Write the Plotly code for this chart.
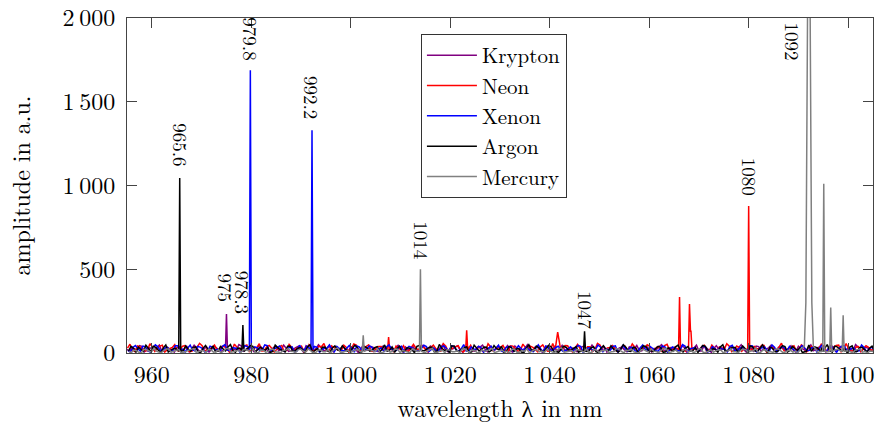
import numpy as np
import plotly.graph_objects as go

# ---------------- data ----------------
series_names = ["Krypton", "Neon", "Xenon", "Argon", "Mercury"]
series_colors = ["#800080", "#ff0000", "#0000ff", "#000000", "#808080"]
grid_start = 955.0
grid_step = 0.5
grid_offset = {"Krypton": 0.0, "Neon": 0.1, "Xenon": 0.2, "Argon": 0.3, "Mercury": 0.4}

# baseline noise read at whole-nm positions
krypton_base = [22, 35, 14, 40, 18, 27, 33, 12, 38, 20, 29, 16, 42, 24, 31,
                15, 37, 21, 28, 11, 34, 26, 19, 41, 23, 30, 13, 36, 25, 17,
                39, 22, 28, 14, 33, 20, 43, 18, 26, 32, 12, 35, 24, 29, 16,
                38, 21, 27, 15, 40, 23, 31, 19, 34, 13, 28, 36, 22, 17, 30,
                25, 41, 14, 33, 20, 27, 37, 16, 29, 24, 11, 35, 22, 39, 18,
                31, 26, 14, 42, 21, 28, 17, 34, 23, 30, 12, 38, 25, 19, 33,
                27, 15, 40, 22, 29, 18, 36, 24, 13, 31, 20, 37, 26, 16, 34,
                21, 28, 39, 14, 32, 23, 17, 35, 25, 30, 12, 41, 19, 27, 22,
                36, 15, 29, 33, 20, 26, 11, 38, 24, 31, 18, 35, 22, 28, 16,
                40, 23, 30, 14, 34, 21, 27, 37, 19, 25, 32, 13, 36, 24, 29,
                20]
# baseline noise read at half-nm positions
krypton_half = [9, 27, 44, 7, 31, 15, 48, 10, 25, 5, 39, 21, 8, 46, 12,
                29, 6, 43, 17, 35, 4, 24, 50, 11, 37, 8, 45, 19, 6, 33,
                14, 47, 9, 26, 41, 5, 30, 12, 49, 16, 38, 7, 22, 44, 10,
                28, 3, 46, 18, 34, 8, 42, 13, 27, 48, 6, 19, 39, 11, 45,
                7, 32, 15, 50, 9, 24, 43, 5, 36, 13, 29, 47, 8, 21, 40,
                10, 44, 6, 27, 17, 49, 12, 34, 4, 41, 20, 9, 46, 14, 30,
                7, 38, 16, 48, 11, 25, 5, 43, 19, 35, 8, 28, 45, 13, 39,
                6, 22, 50, 10, 33, 15, 42, 7, 26, 47, 12, 31, 4, 44, 18,
                9, 37, 14, 49, 6, 29, 41, 11, 23, 46, 8, 36, 16, 43, 5,
                27, 12, 48, 20, 32, 7, 45, 10, 38, 15, 24, 50, 9, 34, 13]
neon_base = [30, 18, 42, 25, 13, 37, 28, 46, 20, 33, 15, 39, 26, 11, 35,
             44, 22, 31, 17, 40, 27, 14, 36, 24, 48, 19, 32, 12, 38, 29,
             21, 45, 16, 34, 26, 41, 13, 30, 23, 37, 18, 43, 28, 15, 33,
             25, 47, 20, 36, 12, 31, 39, 17, 27, 42, 22, 14, 35, 29, 44,
             19, 33, 26, 11, 40, 24, 37, 16, 30, 46, 21, 28, 13, 38, 25,
             34, 18, 43, 27, 15, 32, 41, 20, 36, 23, 12, 39, 29, 45, 17,
             31, 26, 14, 37, 22, 48, 19, 33, 28, 16, 42, 24, 35, 11, 30,
             40, 21, 27, 44, 18, 34, 25, 13, 38, 31, 20, 46, 15, 29, 36,
             23, 41, 17, 32, 27, 12, 39, 24, 45, 19, 30, 35, 14, 28, 43,
             22, 37, 16, 33, 26, 40, 18, 31, 47, 21, 25, 13, 38, 29, 34,
             20]
neon_half = [52, 8, 36, 14, 55, 10, 41, 6, 29, 50, 12, 44, 7, 33, 58,
             9, 26, 47, 11, 38, 5, 53, 16, 42, 8, 31, 56, 13, 45, 6,
             37, 10, 51, 18, 28, 7, 49, 12, 40, 57, 9, 34, 15, 46, 5,
             54, 11, 30, 48, 8, 39, 14, 59, 6, 27, 43, 10, 52, 17, 35,
             7, 47, 12, 56, 9, 32, 44, 6, 50, 15, 38, 8, 55, 13, 29,
             46, 5, 41, 11, 53, 16, 34, 7, 48, 10, 57, 14, 26, 43, 6,
             51, 12, 37, 9, 58, 15, 30, 45, 8, 40, 13, 54, 6, 33, 49,
             11, 36, 7, 52, 16, 28, 44, 9, 56, 12, 39, 5, 47, 14, 31,
             55, 8, 42, 10, 50, 17, 27, 46, 6, 38, 13, 59, 9, 35, 11,
             48, 7, 41, 15, 53, 10, 29, 45, 8, 57, 12, 36, 6, 44, 16]
xenon_base = [16, 34, 25, 41, 12, 29, 37, 20, 31, 14, 43, 23, 28, 18, 39,
              26, 11, 35, 22, 40, 17, 32, 27, 13, 38, 24, 30, 19, 44, 21,
              33, 15, 28, 36, 12, 25, 41, 20, 34, 17, 29, 23, 39, 14, 31,
              27, 42, 18, 24, 35, 11, 30, 37, 22, 16, 40, 26, 33, 13, 28,
              38, 21, 15, 34, 29, 43, 19, 25, 12, 36, 23, 31, 17, 41, 27,
              14, 32, 39, 20, 26, 35, 11, 29, 24, 42, 18, 33, 22, 15, 37,
              28, 40, 13, 30, 21, 36, 25, 17, 43, 19, 27, 34, 12, 31, 23,
              38, 16, 26, 35, 20, 29, 14, 41, 24, 32, 18, 37, 11, 28, 33,
              22, 39, 15, 30, 25, 42, 17, 27, 36, 13, 34, 21, 29, 40, 19,
              24, 31, 16, 37, 26, 12, 35, 23, 28, 44, 18, 30, 14, 33, 25,
              21]
xenon_half = [7, 45, 11, 38, 5, 49, 14, 31, 8, 43, 19, 6, 47, 12, 35,
              4, 41, 17, 9, 50, 13, 28, 6, 44, 10, 37, 15, 48, 7, 26,
              42, 9, 33, 5, 46, 18, 11, 39, 6, 30, 49, 8, 24, 13, 45,
              5, 36, 16, 42, 9, 27, 7, 48, 12, 34, 6, 40, 19, 10, 47,
              8, 29, 14, 44, 6, 38, 11, 50, 9, 23, 41, 5, 32, 15, 46,
              7, 37, 10, 43, 13, 25, 8, 49, 6, 35, 17, 40, 9, 28, 12,
              45, 5, 31, 14, 47, 8, 22, 39, 6, 44, 11, 33, 7, 48, 16,
              26, 9, 42, 5, 36, 13, 50, 8, 29, 10, 41, 6, 38, 15, 24,
              7, 46, 12, 34, 9, 43, 5, 30, 17, 48, 8, 39, 11, 27, 6,
              44, 14, 32, 7, 49, 10, 36, 5, 41, 13, 28, 9, 47, 6, 35]
argon_base = [12, 28, 35, 9, 24, 40, 17, 31, 6, 26, 38, 14, 22, 33, 8,
              29, 19, 42, 11, 25, 36, 15, 30, 7, 27, 39, 18, 23, 34, 10,
              32, 16, 41, 13, 28, 21, 37, 5, 26, 35, 14, 30, 19, 43, 11,
              24, 33, 8, 29, 17, 38, 22, 12, 36, 27, 9, 31, 20, 40, 15,
              25, 34, 10, 28, 18, 42, 13, 23, 37, 7, 30, 21, 35, 16, 26,
              39, 11, 32, 24, 6, 29, 19, 41, 14, 27, 36, 9, 22, 33, 17,
              38, 12, 25, 31, 8, 28, 20, 43, 15, 24, 35, 10, 30, 18, 39,
              13, 27, 34, 7, 22, 37, 16, 29, 11, 32, 25, 40, 14, 21, 36,
              9, 28, 33, 17, 26, 42, 12, 30, 19, 35, 8, 24, 38, 15, 27,
              31, 10, 23, 36, 18, 29, 13, 41, 21, 26, 34, 7, 32, 20, 28,
              15]
argon_half = [40, 4, 22, 46, 9, 33, 3, 48, 15, 27, 5, 42, 11, 37, 2,
              45, 19, 8, 39, 13, 50, 4, 29, 10, 44, 6, 35, 16, 3, 47,
              21, 7, 41, 12, 31, 2, 49, 18, 9, 36, 5, 43, 14, 26, 8,
              46, 3, 38, 11, 32, 6, 48, 17, 4, 40, 10, 28, 2, 45, 13,
              34, 7, 51, 15, 5, 42, 9, 30, 3, 47, 12, 36, 6, 44, 19,
              4, 39, 10, 27, 2, 49, 14, 33, 7, 46, 11, 4, 41, 16, 29,
              5, 48, 9, 37, 3, 44, 13, 24, 6, 50, 12, 35, 2, 43, 17,
              8, 40, 4, 31, 11, 47, 6, 38, 14, 3, 45, 10, 26, 5, 49,
              15, 33, 7, 42, 2, 36, 12, 48, 4, 28, 9, 44, 6, 39, 16,
              3, 46, 11, 30, 8, 50, 5, 37, 13, 2, 43, 10, 34, 7, 41]
mercury_base = [8, 18, 4, 22, 12, 27, 6, 15, 24, 10, 20, 3, 17, 26, 9,
                14, 23, 5, 19, 11, 28, 7, 16, 21, 13, 25, 2, 18, 10, 22,
                6, 15, 27, 9, 19, 12, 24, 4, 17, 8, 21, 14, 29, 5, 16,
                11, 23, 7, 20, 13, 26, 3, 18, 10, 22, 15, 6, 25, 9, 19,
                12, 28, 4, 16, 21, 8, 14, 24, 11, 18, 2, 20, 13, 27, 7,
                17, 10, 23, 5, 15, 26, 9, 19, 12, 22, 6, 16, 30, 8, 14,
                21, 11, 25, 4, 18, 13, 20, 7, 27, 10, 16, 23, 3, 19, 12,
                24, 9, 15, 28, 6, 17, 11, 22, 14, 8, 26, 5, 20, 13, 18,
                10, 25, 7, 16, 21, 12, 29, 4, 19, 9, 23, 15, 6, 17, 11,
                24, 8, 14, 27, 10, 20, 5, 18, 13, 22, 7, 16, 25, 9, 12,
                3]
mercury_half = [3, 14, 1, 20, 6, 11, 2, 24, 5, 16, 1, 9, 21, 4, 13,
                2, 18, 7, 1, 25, 5, 12, 3, 19, 8, 2, 15, 4, 22, 6,
                1, 17, 10, 3, 23, 5, 13, 2, 19, 7, 1, 26, 4, 11, 3,
                16, 6, 2, 21, 8, 1, 14, 5, 24, 3, 10, 2, 18, 6, 1,
                22, 4, 12, 2, 17, 7, 1, 25, 5, 15, 3, 9, 20, 2, 13,
                6, 1, 23, 4, 11, 2, 19, 8, 3, 16, 1, 27, 5, 12, 2,
                18, 6, 1, 21, 4, 14, 3, 9, 24, 2, 15, 7, 1, 20, 5,
                11, 2, 26, 4, 13, 1, 17, 6, 3, 22, 2, 10, 5, 19, 1,
                14, 7, 2, 23, 4, 12, 1, 18, 6, 3, 25, 2, 15, 5, 1,
                20, 4, 11, 2, 16, 7, 1, 24, 3, 13, 2, 19, 5, 1, 10]

# emission lines: wavelength (nm), amplitude (a.u.)
krypton_peak_wl = [974.8, 975.0, 975.2]
krypton_peak_amp = [20, 232, 20]
neon_peak_wl = [1007.4, 1007.6, 1007.8, 1023.1, 1023.3, 1023.5, 1041.1, 1041.6, 1042.2,
                1065.9, 1066.1, 1066.3, 1067.9, 1068.1, 1068.3, 1068.4, 1068.6,
                1079.8, 1080.0, 1080.2]
neon_peak_amp = [20, 95, 20, 20, 135, 20, 20, 125, 20,
                 20, 335, 20, 20, 292, 130, 130, 20,
                 20, 877, 20]
xenon_peak_wl = [979.6, 979.8, 980.0, 992.0, 992.2, 992.4]
xenon_peak_amp = [20, 1688, 20, 20, 1330, 20]
argon_peak_wl = [965.4, 965.6, 965.8, 978.1, 978.3, 978.5, 1046.8, 1047.0, 1047.2,
                 1091.6, 1092.1, 1092.6, 1094.5, 1094.7, 1094.9]
argon_peak_amp = [10, 1045, 10, 10, 167, 10, 10, 130, 10,
                  10, 48, 10, 10, 32, 10]
mercury_peak_wl = [1002.3, 1002.5, 1002.7, 1013.8, 1014.0, 1014.2,
                   1091.2, 1091.5, 1091.75, 1091.95, 1092.25, 1092.45, 1092.7, 1093.0,
                   1094.9, 1095.1, 1095.3, 1096.3, 1096.5, 1096.7, 1098.8, 1099.0, 1099.2]
mercury_peak_amp = [10, 105, 10, 10, 500, 10,
                    40, 300, 1400, 2600, 2600, 1400, 300, 40,
                    10, 1010, 10, 10, 272, 10, 10, 225, 10]

base_values = {"Krypton": (krypton_base, krypton_half), "Neon": (neon_base, neon_half),
               "Xenon": (xenon_base, xenon_half), "Argon": (argon_base, argon_half),
               "Mercury": (mercury_base, mercury_half)}
peak_wl = {"Krypton": krypton_peak_wl, "Neon": neon_peak_wl, "Xenon": xenon_peak_wl,
           "Argon": argon_peak_wl, "Mercury": mercury_peak_wl}
peak_amp = {"Krypton": krypton_peak_amp, "Neon": neon_peak_amp, "Xenon": xenon_peak_amp,
            "Argon": argon_peak_amp, "Mercury": mercury_peak_amp}

label_text = ["965.6", "975", "978.3", "979.8", "992.2", "1014", "1047", "1080", "1092"]
label_wl = [965.6, 975.0, 978.4, 979.75, 992.2, 1014.05, 1047.1, 1080.1, 1088.9]
label_amp = [1242, 388, 364, 1878, 1528, 675, 257, 1051, 1860]

x_tickvals = [960, 980, 1000, 1020, 1040, 1060, 1080, 1100]
x_ticktext = ["960", "980", "1\u2009000", "1\u2009020", "1\u2009040", "1\u2009060", "1\u2009080", "1\u2009100"]
y_tickvals = [0, 500, 1000, 1500, 2000]
y_ticktext = ["0", "500", "1\u2009000", "1\u2009500", "2\u2009000"]

# ---------------- figure ----------------
FONT = "Latin Modern Roman"
fig = go.Figure()
for name, color in zip(series_names, series_colors):
    whole, half = base_values[name]
    whole = np.array(whole, dtype=float)
    half = np.array(half, dtype=float)
    x0 = grid_start + grid_offset[name]
    bx = np.concatenate([x0 + np.arange(len(whole)), x0 + grid_step + np.arange(len(half))])
    by = np.concatenate([whole, half])
    px = np.array(peak_wl[name], dtype=float)
    py = np.array(peak_amp[name], dtype=float)
    keep = np.array([np.min(np.abs(px - v)) > 0.3 for v in bx])
    xs = np.concatenate([bx[keep], px])
    ys = np.concatenate([by[keep], py])
    order = np.argsort(xs)
    fig.add_trace(go.Scatter(x=xs[order], y=ys[order], mode="lines", name=name,
                             line=dict(color=color, width=1.5)))

for t, xv, yv in zip(label_text, label_wl, label_amp):
    fig.add_annotation(x=xv, y=yv, text=t, showarrow=False, textangle=90,
                       xanchor="center", yanchor="middle",
                       font=dict(family=FONT, size=19, color="#000"))

axis_common = dict(showgrid=False, zeroline=False, showline=True, linecolor="#444",
                   linewidth=1, mirror="ticks", ticks="inside", ticklen=10,
                   tickcolor="#444", tickwidth=1, ticklabeloverflow="allow",
                   automargin=False,
                   tickfont=dict(family=FONT, size=24, color="#000"))
fig.update_xaxes(range=[955, 1105], tickvals=x_tickvals, ticktext=x_ticktext,
                 title=dict(text="wavelength \u03bb in nm", standoff=16,
                            font=dict(family=FONT, size=24, color="#000")),
                 **axis_common)
fig.update_yaxes(range=[0, 2000], tickvals=y_tickvals, ticktext=y_ticktext,
                 ticklabelstandoff=6,
                 title=dict(text="amplitude in a.u.", standoff=24,
                            font=dict(family=FONT, size=24, color="#000")),
                 **axis_common)
fig.update_layout(
    width=876, height=424,
    margin=dict(l=127, r=3, t=18, b=71, autoexpand=False),
    plot_bgcolor="white", paper_bgcolor="white",
    font=dict(family=FONT, color="#000"),
    legend=dict(x=0.394, y=0.952, xanchor="left", yanchor="top",
                bgcolor="white", bordercolor="#333", borderwidth=1,
                font=dict(family=FONT, size=21, color="#000"),
                itemwidth=50, tracegroupgap=0),
)
fig.write_html("out.html")
